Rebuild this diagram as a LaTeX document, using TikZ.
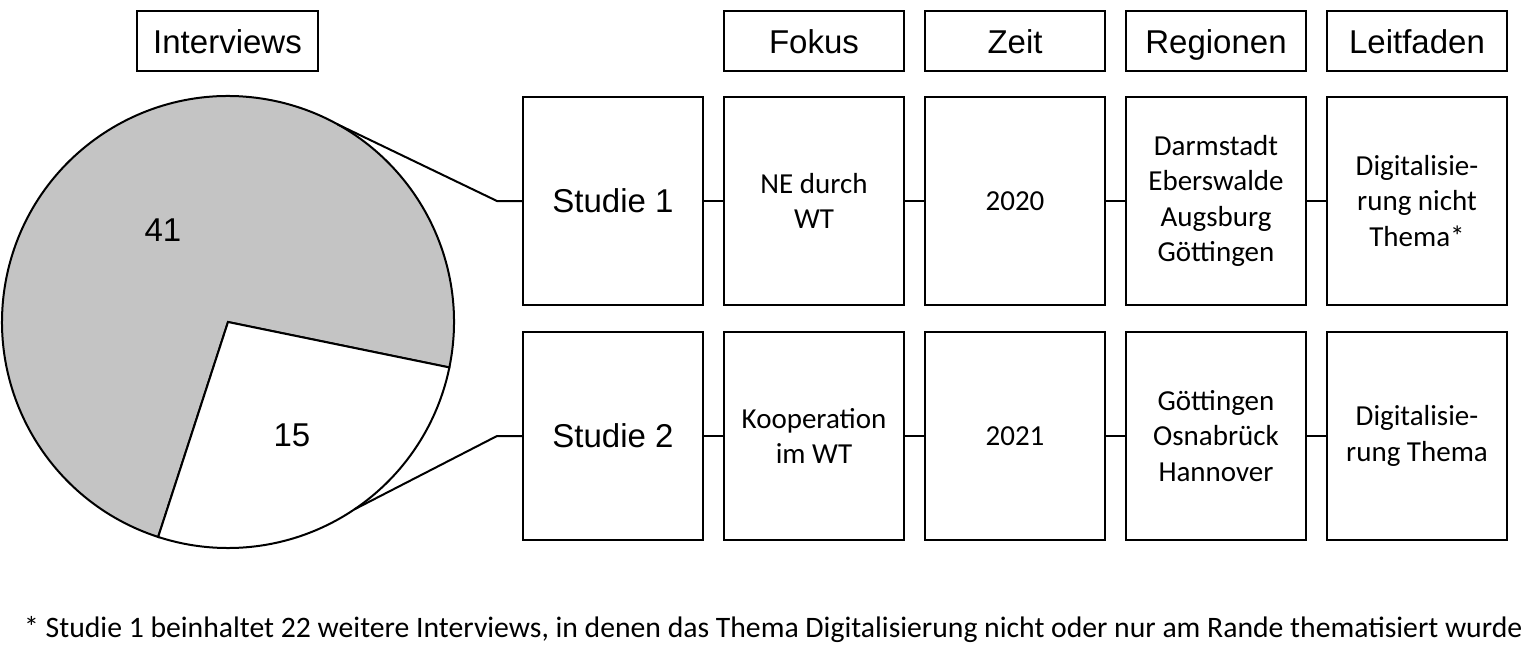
\documentclass[tikz,border=0pt]{standalone}
\usepackage{fontspec}
\setmainfont{Carlito}
\newfontfamily\arialfont{Liberation Sans}
\usetikzlibrary{positioning}
\definecolor{pieGray}{RGB}{196,196,196}
\tikzset{
  hdr/.style={draw, line width=2pt, minimum width=180pt, minimum height=60pt, inner sep=0pt, text height=24pt, text depth=0pt, font=\arialfont\fontsize{33}{38}\selectfont},
  studbox/.style={draw, line width=2pt, minimum width=180pt, minimum height=208pt, inner sep=0pt, font=\arialfont\fontsize{33}{38}\selectfont},
  cellbox/.style={draw, line width=2pt, minimum width=180pt, minimum height=208pt, inner sep=0pt, align=center, font=\fontsize{29}{35.4}\selectfont},
  link/.style={line width=2pt},
  pienum/.style={font=\arialfont\fontsize{33}{38}\selectfont, inner sep=0pt}
}
\begin{document}
\begin{tikzpicture}[x=1pt,y=1pt]
\useasboundingbox (0,0) rectangle (1524,-649);
% headers
\node[hdr, minimum width=181pt] (hint) at (227.5,-41) {Interviews};
\node[hdr] (hfok) at (814,-41) {Fokus};
\node[hdr] (hzeit) at (1015,-41) {Zeit};
\node[hdr] (hreg) at (1216,-41) {Regionen};
\node[hdr] (hleit) at (1417,-41) {Leitfaden};
% pie
\coordinate (c) at (228,-322);
\filldraw[fill=pieGray, line width=2pt] (c) -- ++(-11.6:226pt) arc[start angle=-11.6, end angle=252, radius=226pt] -- cycle;
\filldraw[fill=white, line width=2pt] (c) -- ++(-108:226pt) arc[start angle=-108, end angle=-11.6, radius=226pt] -- cycle;
\node[pienum] (n41) at (163,-230) {41};
\node[pienum] (n15) at (292,-435) {15};
% row 1
\node[studbox] (s1) at (613,-201) {Studie 1};
\node[cellbox] (f1) at (814,-201) {NE durch\\WT};
\node[cellbox] (z1) at (1015,-201) {2020};
\node[cellbox] (r1) at (1216,-201) {Darmstadt\\Eberswalde\\Augsburg\\Göttingen};
\node[cellbox] (l1) at (1417,-201) {Digitalisie-\\rung nicht\\Thema*};
% row 2
\node[studbox] (s2) at (613,-436) {Studie 2};
\node[cellbox] (f2) at (814,-436) {Kooperation\\im WT};
\node[cellbox] (z2) at (1015,-436) {2021};
\node[cellbox] (r2) at (1216,-436) {Göttingen\\Osnabrück\\Hannover};
\node[cellbox] (l2) at (1417,-436) {Digitalisie-\\rung Thema};
% connectors
\coordinate (p1) at ([shift={(61:226pt)}]c);
\coordinate (p2) at ([shift={(-56:226pt)}]c);
\coordinate (k1) at (497,-201);
\coordinate (k2) at (497,-436);
\draw[link] (p1) -- (k1) -- (s1.west);
\draw[link] (p2) -- (k2) -- (s2.west);
\draw[link] (s1.east) -- (f1.west);
\draw[link] (f1.east) -- (z1.west);
\draw[link] (z1.east) -- (r1.west);
\draw[link] (r1.east) -- (l1.west);
\draw[link] (s2.east) -- (f2.west);
\draw[link] (f2.east) -- (z2.west);
\draw[link] (z2.east) -- (r2.west);
\draw[link] (r2.east) -- (l2.west);
% footnote
\node[anchor=base west, inner sep=0pt, font=\fontsize{29.7}{34}\selectfont] (foot) at (24,-637) {* Studie 1 beinhaltet 22 weitere Interviews, in denen das Thema Digitalisierung nicht oder nur am Rande thematisiert wurde};
\end{tikzpicture}
\end{document}
